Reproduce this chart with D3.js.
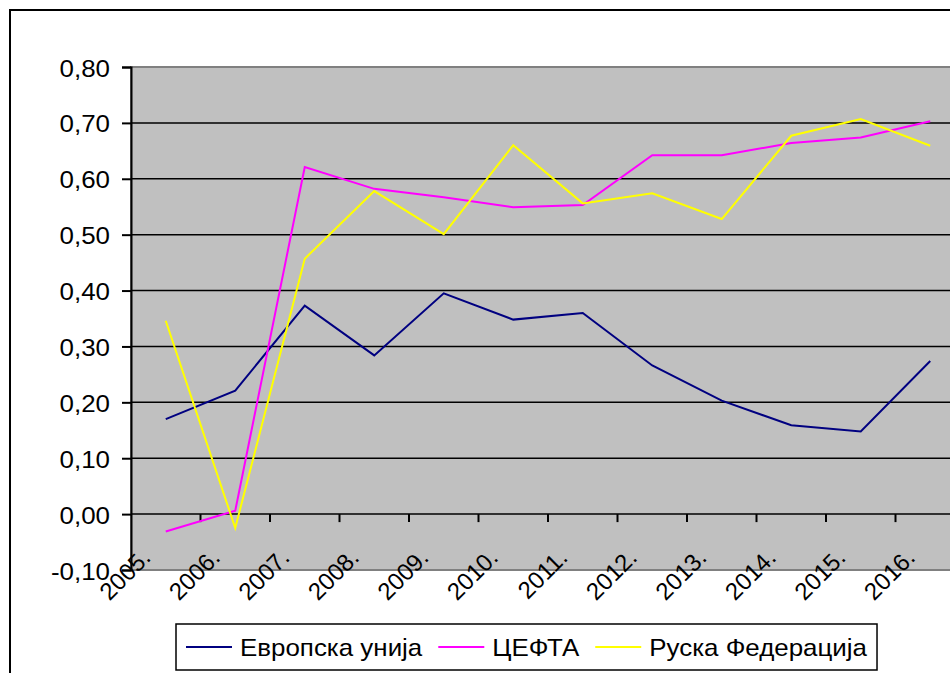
<!DOCTYPE html>
<html>
<head>
<meta charset="utf-8">
<script src="https://cdn.jsdelivr.net/npm/d3@7"></script>
<style>
  body { margin: 0; background: #fff; }
  text { font-family: "Liberation Sans", Arial, sans-serif; fill: #000; }
</style>
</head>
<body>
<div id="chart"></div>
<script>
var width = 950,
    height = 673;

// data
var years = ["2005.", "2006.", "2007.", "2008.", "2009.", "2010.", "2011.", "2012.", "2013.", "2014.", "2015.", "2016."];
var seriesNames = ["Европска унија", "ЦЕФТА", "Руска Федерација"];
var seriesColors = ["#000080", "#FF00FF", "#FFFF00"];
var euValues     = [0.170, 0.221, 0.373, 0.284, 0.395, 0.348, 0.360, 0.266, 0.203, 0.159, 0.148, 0.274];
var ceftaValues  = [-0.031, 0.006, 0.621, 0.582, 0.567, 0.549, 0.553, 0.642, 0.642, 0.664, 0.674, 0.703];
var russiaValues = [0.346, -0.025, 0.457, 0.578, 0.501, 0.660, 0.556, 0.574, 0.528, 0.677, 0.707, 0.659];
var yTicks = [-0.1, 0, 0.1, 0.2, 0.3, 0.4, 0.5, 0.6, 0.7, 0.8];

var series = [euValues, ceftaValues, russiaValues];

var plotLeft = 131, plotRight = 965, plotTop = 67, plotBottom = 570;
var stretch = 1.08;   // text in the picture is a bit wider than normal
var fontSize = 24;

var svg = d3.select("#chart").append("svg")
    .attr("width", width)
    .attr("height", height);

// outer chart border (runs off the right and bottom edges)
svg.append("rect")
    .attr("x", 10).attr("y", 10)
    .attr("width", 970).attr("height", 700)
    .attr("fill", "#fff")
    .attr("stroke", "#000")
    .attr("stroke-width", 2);

var x = d3.scaleBand()
    .domain(years)
    .range([plotLeft, plotRight]);

var y = d3.scaleLinear()
    .domain([-0.1, 0.8])
    .range([plotBottom, plotTop]);

// plot area
svg.append("rect")
    .attr("x", plotLeft).attr("y", plotTop)
    .attr("width", plotRight - plotLeft).attr("height", plotBottom - plotTop)
    .attr("fill", "#C0C0C0")
    .attr("stroke", "#808080")
    .attr("stroke-width", 2);

// gridlines
svg.append("g")
  .selectAll("line")
  .data(yTicks.filter(function(d){ return d > -0.1 && d < 0.8; }))
  .enter().append("line")
    .attr("x1", plotLeft).attr("x2", plotRight)
    .attr("y1", function(d){ return y(d); })
    .attr("y2", function(d){ return y(d); })
    .attr("stroke", "#000")
    .attr("stroke-width", 1.5);

// category axis sits on 0,00 with ticks at the category borders
var tickPos = years.slice(1);
svg.append("g")
  .selectAll("line")
  .data(tickPos)
  .enter().append("line")
    .attr("x1", function(d){ return x(d); })
    .attr("x2", function(d){ return x(d); })
    .attr("y1", y(0)).attr("y2", y(0) + 8)
    .attr("stroke", "#000")
    .attr("stroke-width", 2);

// series lines
var line = d3.line()
    .x(function(d, i){ return x(years[i]) + x.bandwidth() / 2; })
    .y(function(d){ return y(d); });

svg.append("g")
  .selectAll("path")
  .data(series)
  .enter().append("path")
    .attr("d", line)
    .attr("fill", "none")
    .attr("stroke", function(d, i){ return seriesColors[i]; })
    .attr("stroke-width", 2);

// value axis
var yAxis = d3.axisLeft(y)
    .tickValues(yTicks)
    .tickSize(9)
    .tickFormat(function(d){ return d.toFixed(2).replace(".", ","); });

var yg = svg.append("g")
    .attr("transform", "translate(" + plotLeft + ",0)")
    .call(yAxis);
yg.select(".domain").attr("stroke", "#000").attr("stroke-width", 2);
yg.selectAll(".tick line").attr("stroke", "#000").attr("stroke-width", 2);
yg.selectAll(".tick text")
    .attr("x", null).attr("dy", null)
    .attr("font-size", fontSize)
    .attr("font-family", "Liberation Sans, Arial, sans-serif")
    .attr("text-anchor", "end")
    .attr("transform", "translate(-21,9) scale(" + stretch + ",1)");

// category labels, rotated
svg.append("g")
  .selectAll("text")
  .data(years)
  .enter().append("text")
    .attr("font-size", fontSize)
    .attr("text-anchor", "end")
    .attr("transform", function(d){
      return "translate(" + (x(d) + 21) + ",559) rotate(-45)";
    })
    .text(function(d){ return d; });

// legend
var legend = svg.append("g");
var legendBox = legend.append("rect")
    .attr("x", 176).attr("y", 624)
    .attr("width", 704).attr("height", 46)
    .attr("fill", "#fff")
    .attr("stroke", "#000")
    .attr("stroke-width", 1.5);

var lx = 186;
seriesNames.forEach(function(name, i){
  legend.append("line")
    .attr("x1", lx).attr("x2", lx + 46)
    .attr("y1", 647).attr("y2", 647)
    .attr("stroke", seriesColors[i])
    .attr("stroke-width", 2);
  var t = legend.append("text")
    .attr("font-size", fontSize)
    .attr("transform", "translate(" + (lx + 54) + ",656) scale(" + stretch + ",1)")
    .text(name);
  var w = t.node().getComputedTextLength() * stretch;
  lx = lx + 54 + w + 16;
});
legendBox.attr("width", lx - 176 - 6);
</script>
</body>
</html>
